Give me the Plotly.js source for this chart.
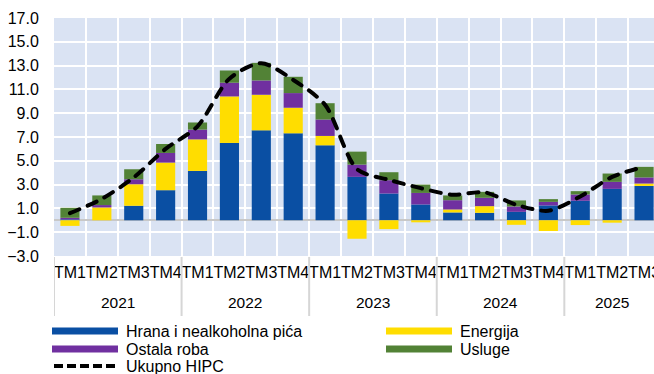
<!DOCTYPE html>
<html>
<head>
<meta charset="utf-8">
<script src="https://cdn.plot.ly/plotly-3.0.1.min.js"></script>
<style>
  html, body { margin: 0; padding: 0; overflow: hidden; background: #ffffff; }
  #chart { width: 662px; height: 374px; }
  .js-line { stroke-linecap: round; }
</style>
</head>
<body>
<div id="chart"></div>
<script>
// Quarterly periods
const periodYear = ['2021','2021','2021','2021','2022','2022','2022','2022','2023','2023','2023','2023','2024','2024','2024','2024','2025','2025','2025'];
const periodQuarter = ['TM1','TM2','TM3','TM4','TM1','TM2','TM3','TM4','TM1','TM2','TM3','TM4','TM1','TM2','TM3','TM4','TM1','TM2','TM3'];
const yearLabels = ['2021','2022','2023','2024','2025'];

// Contributions to HIPC inflation (percentage points)
const food = [0.08, 0.0, 1.22, 2.53, 4.15, 6.5, 7.56, 7.31, 6.3, 3.65, 2.25, 1.33, 0.66, 0.63, 0.71, 1.25, 1.64, 2.64, 2.89];
const energy = [-0.47, 1.08, 1.81, 2.32, 2.65, 3.91, 2.99, 2.15, 0.79, -1.55, -0.74, -0.17, 0.25, 0.56, -0.38, -0.9, -0.4, -0.2, 0.2];
const otherGoods = [0.13, 0.2, 0.42, 0.81, 0.82, 1.15, 1.2, 1.23, 1.38, 1.03, 1.12, 0.97, 0.78, 0.7, 0.45, 0.3, 0.53, 0.59, 0.51];
const services = [0.84, 0.81, 0.84, 0.75, 0.6, 1.03, 1.48, 1.37, 1.37, 1.09, 0.67, 0.7, 0.4, 0.5, 0.51, 0.23, 0.28, 0.7, 0.89];
const hipcTotal = [0.6, 1.8, 3.6, 6.0, 7.9, 11.9, 13.2, 11.8, 9.7, 4.3, 3.4, 2.7, 2.15, 2.35, 1.3, 0.8, 2.0, 3.65, 4.5];

const seriesNames = ['Hrana i nealkoholna pića', 'Energija', 'Ostala roba', 'Usluge', 'Ukupno HIPC'];
const seriesColors = ['#0a4fa3', '#ffdd00', '#7030a0', '#528236', '#000000'];

const periods = periodYear.map((y, i) => y + ' ' + periodQuarter[i]);

const FONT = 'Liberation Sans, Arial, sans-serif';
const M = { l: 54, r: 2, t: 18, b: 118 };
const W = 662, H = 374;
const plotW = W - M.l - M.r, plotH = H - M.t - M.b;
// pixel -> paper helpers for the hand-built legend and axis decorations
const px = v => (v - M.l) / plotW;
const py = v => (M.t + plotH - v) / plotH;

const barSeries = [food, energy, otherGoods, services];
const traces = barSeries.map((vals, k) => ({
  type: 'bar',
  name: seriesNames[k],
  x: periods,
  y: vals,
  marker: { color: seriesColors[k], line: { width: 0 } },
  hoverinfo: 'skip'
}));
traces.push({
  type: 'scatter',
  mode: 'lines',
  name: seriesNames[4],
  x: periods,
  y: hipcTotal,
  line: { color: seriesColors[4], width: 4, dash: '10px,9px', shape: 'spline', smoothing: 0.8 },
  hoverinfo: 'skip'
});

const shapes = [];
const annotations = [];

// year group dividers and labels under the quarter ticks
const groupStarts = [];
periodYear.forEach((y, i) => { if (i === 0 || y !== periodYear[i - 1]) groupStarts.push(i); });
groupStarts.forEach((start, g) => {
  shapes.push({
    type: 'line', xref: 'x', yref: 'paper',
    x0: start - 0.5, x1: start - 0.5, y0: py(257), y1: py(316),
    line: { color: '#d6d6d6', width: 2 }
  });
  const end = g + 1 < groupStarts.length ? groupStarts[g + 1] - 1 : periodYear.length - 1;
  annotations.push({
    xref: 'x', yref: 'paper', x: (start + end) / 2, y: py(302),
    text: yearLabels[g], showarrow: false, xanchor: 'center', yanchor: 'middle',
    font: { family: FONT, size: 15.5, color: '#000' }
  });
});

// legend: two columns of wide colour keys
const legendItems = [
  { k: 0, x: 52, y: 331 },
  { k: 1, x: 386, y: 331 },
  { k: 2, x: 52, y: 349 },
  { k: 3, x: 386, y: 349 },
  { k: 4, x: 52, y: 366 }
];
legendItems.forEach(it => {
  if (it.k < 4) {
    shapes.push({
      type: 'rect', xref: 'paper', yref: 'paper',
      x0: px(it.x), x1: px(it.x + 66), y0: py(it.y + 3.5), y1: py(it.y - 3.5),
      fillcolor: seriesColors[it.k], line: { width: 0 }
    });
  } else {
    shapes.push({
      type: 'line', xref: 'paper', yref: 'paper',
      x0: px(it.x + 2), x1: px(it.x + 66), y0: py(it.y), y1: py(it.y),
      line: { color: seriesColors[4], width: 4, dash: '9px,4px' }
    });
  }
  annotations.push({
    xref: 'paper', yref: 'paper', x: px(it.x + 72), y: py(it.y),
    text: seriesNames[it.k], showarrow: false, xanchor: 'left', yanchor: 'middle',
    font: { family: FONT, size: 16, color: '#000' }
  });
});

const layout = {
  width: W, height: H,
  margin: M,
  barmode: 'relative',
  bargap: 0.4,
  showlegend: false,
  paper_bgcolor: '#ffffff',
  plot_bgcolor: '#dae3f3',
  font: { family: FONT, size: 15, color: '#000' },
  xaxis: {
    type: 'category',
    categoryorder: 'array', categoryarray: periods,
    tickmode: 'array', tickvals: periods, ticktext: periodQuarter,
    tickson: 'boundaries',
    range: [-0.5, periods.length - 0.5],
    showgrid: true, gridcolor: '#ffffff', gridwidth: 2,
    showline: false, zeroline: false,
    ticks: '',
    ticklabelstandoff: 5,
    tickangle: 0,
    tickfont: { family: FONT, size: 16, color: '#000' },
    fixedrange: true
  },
  yaxis: {
    range: [-3, 17],
    tickmode: 'linear', tick0: -3, dtick: 2, tickformat: '.1f',
    showgrid: true, gridcolor: '#ffffff', gridwidth: 2,
    zeroline: true, zerolinecolor: '#c8c8c8', zerolinewidth: 2,
    showline: false,
    ticks: 'outside', ticklen: 11, tickcolor: 'rgba(0,0,0,0)',
    tickfont: { family: FONT, size: 16, color: '#000' },
    fixedrange: true
  },
  shapes: shapes,
  annotations: annotations
};

Plotly.newPlot('chart', traces, layout, { staticPlot: true, displayModeBar: false });
</script>
</body>
</html>
